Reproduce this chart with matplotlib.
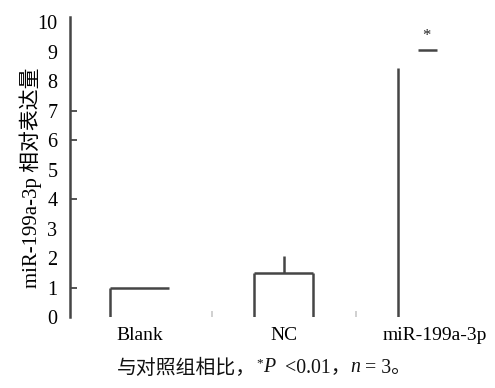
import matplotlib

matplotlib.use("Agg")
import matplotlib.pyplot as plt
import matplotlib.transforms as mtransforms
import numpy as np

# 数据
groups = ["Blank", "NC", "miR-199a-3p"]
bar_heights = [1.0, 1.5, 8.45]
err_top = [None, 2.07, None]
mir_cap = 9.05
yticks = list(range(0, 11))
marked_ticks = [1, 4, 6, 7]

LINE = "#454545"
FAM = ["Liberation Serif", "Noto Sans CJK SC", "DejaVu Sans"]
plt.rcParams["font.family"] = FAM

fig = plt.figure(figsize=(4.95, 3.88), dpi=100)
ax = fig.add_axes([0.1414, 0.183, 0.855, 0.773])

x = np.arange(len(groups))
w = 0.41
lw = 1.8

# 左边线 (三组都有)
ax.vlines(x - w / 2, 0, bar_heights, color=LINE, lw=lw)
# 顶线: Blank 和 NC
ax.hlines(bar_heights[:2], x[:2] - w / 2, x[:2] + w / 2, color=LINE, lw=lw)
# 右边线: 只有 NC
ax.vlines(x[1] + w / 2, 0, bar_heights[1], color=LINE, lw=lw)
# NC 误差线
ax.vlines(x[1], bar_heights[1], err_top[1], color=LINE, lw=lw)
# miR-199a-3p 顶部短线与星号
ax.hlines(mir_cap, x[2] - 0.065, x[2] + 0.065, color=LINE, lw=lw)
ax.text(x[2] - 0.01, mir_cap + 0.2, "*", ha="center", va="bottom", fontsize=12, color="#222")

ax.set_xlim(-0.486, 2.455)
ax.set_ylim(0, 10.17)

for side in ("top", "right", "bottom"):
    ax.spines[side].set_visible(False)
ax.spines["left"].set_color(LINE)
ax.spines["left"].set_linewidth(lw)

ax.set_yticks(yticks)
ax.set_yticklabels([str(v) for v in yticks], fontsize=14.5)
ax.tick_params(axis="y", which="major", length=0, pad=9)
# 只有部分刻度有短线
ax.hlines(marked_ticks, 0, 0.016, transform=ax.get_yaxis_transform(), color=LINE, lw=1.3)

ax.set_xticks(x)
ax.set_xticklabels(groups, fontsize=14)
ax.tick_params(axis="x", which="major", length=0, pad=7)
ax.set_xticks([0.5, 1.5], minor=True)
ax.tick_params(axis="x", which="minor", direction="in", length=4, width=1.2, color="#c8c8c8")
# 原图第三个标签略偏右
last = ax.get_xticklabels()[-1]
last.set_transform(last.get_transform() + mtransforms.ScaledTranslation(0.07, 0, fig.dpi_scale_trans))

ax.set_ylabel("miR-199a-3p 相对表达量", fontsize=15, fontweight="light")
ax.yaxis.set_label_coords(-0.066, 0.463)

# 图注: 分段排版 (中文 / 斜体 P, n / 上标 *)
pieces = [
    ("与对照组相比，", {"family": ["Noto Sans CJK SC"], "fontweight": "light"}, 0),
    ("*", {"family": FAM, "fontsize": 9.5}, 5),
    ("P", {"family": FAM, "style": "italic"}, 0),
    ("  <0.01，", {"family": FAM}, 0),
    ("n", {"family": FAM, "style": "italic"}, 0),
    (" = 3。", {"family": FAM}, 0),
]
fig.canvas.draw()
renderer = fig.canvas.get_renderer()
cx, cy = 117, 388 - 368
for txt, kw, dy in pieces:
    opts = {"fontsize": 14.3}
    opts.update(kw)
    t = fig.text(cx, cy + dy, txt, transform=None, ha="left", va="center", color="#111", **opts)
    cx = t.get_window_extent(renderer).x1

fig.savefig("out.png", dpi=100)
